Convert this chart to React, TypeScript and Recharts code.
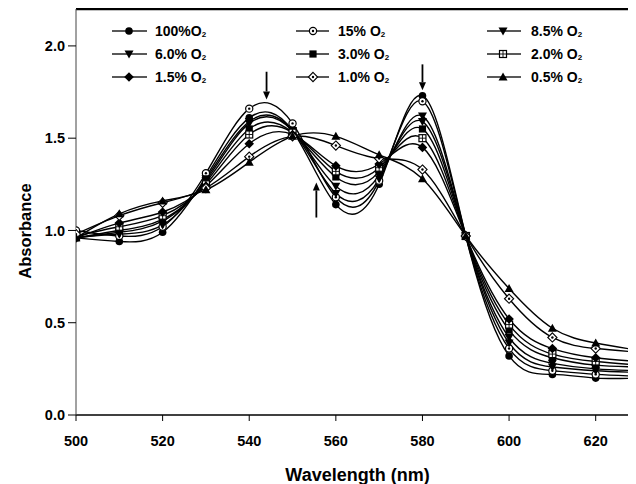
import React from "react";
import { LineChart, Line, XAxis, YAxis, ReferenceLine } from "recharts";

const WAVELENGTHS = [500, 510, 520, 530, 540, 550, 560, 570, 580, 590, 600, 610, 620, 630];

const O2_100 = [0.96, 0.94, 0.99, 1.29, 1.61, 1.54, 1.14, 1.25, 1.73, 0.97, 0.32, 0.22, 0.2, 0.2];
const O2_15 = [1.0, 0.97, 1.02, 1.31, 1.66, 1.58, 1.18, 1.27, 1.7, 0.97, 0.36, 0.24, 0.22, 0.21];
const O2_8_5 = [0.96, 0.98, 1.03, 1.28, 1.59, 1.54, 1.2, 1.28, 1.62, 0.97, 0.39, 0.26, 0.24, 0.23];
const O2_6_0 = [0.96, 0.99, 1.05, 1.27, 1.58, 1.54, 1.24, 1.3, 1.59, 0.97, 0.42, 0.28, 0.25, 0.24];
const O2_3_0 = [0.96, 1.0, 1.06, 1.26, 1.55, 1.53, 1.29, 1.32, 1.55, 0.97, 0.46, 0.31, 0.27, 0.26];
const O2_2_0 = [0.97, 1.02, 1.08, 1.25, 1.52, 1.53, 1.32, 1.34, 1.5, 0.97, 0.49, 0.33, 0.29, 0.27];
const O2_1_5 = [0.96, 1.04, 1.1, 1.24, 1.47, 1.52, 1.35, 1.36, 1.45, 0.97, 0.52, 0.36, 0.31, 0.29];
const O2_1_0 = [0.98, 1.08, 1.15, 1.23, 1.4, 1.51, 1.46, 1.39, 1.33, 0.97, 0.63, 0.42, 0.36, 0.34];
const O2_0_5 = [0.96, 1.09, 1.16, 1.22, 1.37, 1.51, 1.51, 1.41, 1.28, 0.97, 0.685, 0.47, 0.39, 0.35];

const X_TICKS = [500, 520, 540, 560, 580, 600, 620];
const Y_TICKS = [0, 0.5, 1.0, 1.5, 2.0];

const SERIES = [
  { key: "s100", label: "100%O", values: O2_100, marker: "circle" },
  { key: "s15", label: "15% O", values: O2_15, marker: "circleDot" },
  { key: "s85", label: "8.5% O", values: O2_8_5, marker: "triDown" },
  { key: "s60", label: "6.0% O", values: O2_6_0, marker: "triDown" },
  { key: "s30", label: "3.0% O", values: O2_3_0, marker: "square" },
  { key: "s20", label: "2.0% O", values: O2_2_0, marker: "squareCross" },
  { key: "s15b", label: "1.5% O", values: O2_1_5, marker: "diamond" },
  { key: "s10", label: "1.0% O", values: O2_1_0, marker: "diamondDot" },
  { key: "s05", label: "0.5% O", values: O2_0_5, marker: "triUp" },
];

const data = WAVELENGTHS.map((w, i) => {
  const row: Record<string, number> = { w };
  SERIES.forEach((s) => {
    row[s.key] = s.values[i];
  });
  return row;
});

const FONT = '"Liberation Sans", Arial, sans-serif';

function Marker({ type, cx, cy }: { type: string; cx: number; cy: number }) {
  if (cx == null || cy == null || isNaN(cx) || isNaN(cy)) return null;
  switch (type) {
    case "circle":
      return <circle cx={cx} cy={cy} r={3.8} fill="#000" />;
    case "circleDot":
      return (
        <g>
          <circle cx={cx} cy={cy} r={3.6} fill="#fff" stroke="#000" strokeWidth={1.2} />
          <circle cx={cx} cy={cy} r={1.2} fill="#000" />
        </g>
      );
    case "triDown":
      return <polygon points={`${cx - 4.5},${cy - 3.5} ${cx + 4.5},${cy - 3.5} ${cx},${cy + 4.5}`} fill="#000" />;
    case "triUp":
      return <polygon points={`${cx - 4.5},${cy + 3.5} ${cx + 4.5},${cy + 3.5} ${cx},${cy - 4.5}`} fill="#000" />;
    case "square":
      return <rect x={cx - 3.6} y={cy - 3.6} width={7.2} height={7.2} fill="#000" />;
    case "squareCross":
      return (
        <g>
          <rect x={cx - 3.5} y={cy - 3.5} width={7} height={7} fill="#fff" stroke="#000" strokeWidth={1.2} />
          <line x1={cx - 3.5} y1={cy} x2={cx + 3.5} y2={cy} stroke="#000" strokeWidth={0.9} />
          <line x1={cx} y1={cy - 3.5} x2={cx} y2={cy + 3.5} stroke="#000" strokeWidth={0.9} />
        </g>
      );
    case "diamond":
      return <polygon points={`${cx},${cy - 4.8} ${cx + 4.8},${cy} ${cx},${cy + 4.8} ${cx - 4.8},${cy}`} fill="#000" />;
    case "diamondDot":
      return (
        <g>
          <polygon
            points={`${cx},${cy - 4.6} ${cx + 4.6},${cy} ${cx},${cy + 4.6} ${cx - 4.6},${cy}`}
            fill="#fff"
            stroke="#000"
            strokeWidth={1.1}
          />
          <circle cx={cx} cy={cy} r={1.2} fill="#000" />
        </g>
      );
    default:
      return null;
  }
}

function ArrowShape(props: any) {
  const { x1, y1, x2, y2 } = props;
  const dir = y2 > y1 ? 1 : -1;
  const head = 8;
  return (
    <g>
      <line x1={x1} y1={y1} x2={x2} y2={y2 - dir * head} stroke="#000" strokeWidth={1.8} />
      <polygon
        points={`${x2 - 3.5},${y2 - dir * head} ${x2 + 3.5},${y2 - dir * head} ${x2},${y2}`}
        fill="#000"
      />
    </g>
  );
}

const LEGEND_COLS = [
  { x1: 104, x2: 139, mx: 121, tx: 147 },
  { x1: 288, x2: 321, mx: 305, tx: 330 },
  { x1: 479, x2: 513, mx: 495, tx: 523 },
];
const LEGEND_ROWS = [23, 46, 69];

function LegendOverlay() {
  return (
    <svg
      width={640}
      height={120}
      style={{ position: "absolute", left: 0, top: 0, pointerEvents: "none" }}
    >
      {SERIES.map((s, i) => {
        const col = LEGEND_COLS[i % 3];
        const y = LEGEND_ROWS[Math.floor(i / 3)];
        return (
          <g key={s.key}>
            <line x1={col.x1} y1={y} x2={col.x2} y2={y} stroke="#222" strokeWidth={1.3} />
            <Marker type={s.marker} cx={col.mx} cy={y} />
            <text
              x={col.tx}
              y={y + 5}
              fontFamily={FONT}
              fontWeight="bold"
              fontSize={14}
              fill="#000"
            >
              {s.label}
              <tspan fontSize={8} dy={1}>2</tspan>
            </text>
          </g>
        );
      })}
    </svg>
  );
}

export default function App() {
  return (
    <div style={{ position: "relative", width: 628, height: 476, overflow: "hidden" }}>
      <LineChart
        width={640}
        height={476}
        data={data}
        margin={{ top: 1, right: 9, bottom: 0, left: 0 }}
      >
        <XAxis
          dataKey="w"
          type="number"
          domain={[500, 630]}
          ticks={X_TICKS}
          allowDataOverflow
          height={69}
          tickSize={6}
          tickMargin={15}
          axisLine={{ stroke: "#000", strokeWidth: 1.5 }}
          tickLine={{ stroke: "#000" }}
          tick={{ fill: "#000", fontSize: 14.5, fontWeight: "bold", fontFamily: FONT }}
          label={{
            value: "Wavelength (nm)",
            position: "insideBottom",
            offset: 3,
            fill: "#000",
            fontSize: 18,
            fontWeight: "bold",
            fontFamily: FONT,
          }}
        />
        <YAxis
          type="number"
          domain={[0, 2.2]}
          ticks={Y_TICKS}
          allowDataOverflow
          width={68}
          tickSize={8}
          tickMargin={3}
          tickFormatter={(v: number) => v.toFixed(1)}
          axisLine={{ stroke: "#444", strokeWidth: 1 }}
          tickLine={{ stroke: "#000" }}
          tick={{ fill: "#000", fontSize: 14.5, fontWeight: "bold", fontFamily: FONT }}
          label={{
            content: (p: any) => {
              const vb = p.viewBox || { x: 0, y: 0 };
              const tx = vb.x + 23;
              const ty = vb.y + 222;
              return (
                <text
                  x={0}
                  y={0}
                  transform={`translate(${tx},${ty}) rotate(-90)`}
                  textAnchor="middle"
                  fontFamily={FONT}
                  fontWeight="bold"
                  fontSize={16.5}
                  fill="#000"
                >
                  Absorbance
                </text>
              );
            },
          }}
        />
        <ReferenceLine y={2.2} stroke="#000" strokeWidth={2.5} ifOverflow="visible" />
        {SERIES.map((s) => (
          <Line
            key={s.key}
            dataKey={s.key}
            type="natural"
            stroke="#000"
            strokeWidth={1.4}
            isAnimationActive={false}
            activeDot={false}
            dot={(p: any) => (
              <g key={`${s.key}-${p.index}`}>
                <Marker type={s.marker} cx={p.cx} cy={p.cy} />
              </g>
            )}
          />
        ))}
        <ReferenceLine
          segment={[
            { x: 544, y: 1.86 },
            { x: 544, y: 1.71 },
          ]}
          shape={ArrowShape}
          ifOverflow="visible"
        />
        <ReferenceLine
          segment={[
            { x: 580, y: 1.9 },
            { x: 580, y: 1.76 },
          ]}
          shape={ArrowShape}
          ifOverflow="visible"
        />
        <ReferenceLine
          segment={[
            { x: 555.5, y: 1.07 },
            { x: 555.5, y: 1.26 },
          ]}
          shape={ArrowShape}
          ifOverflow="visible"
        />
      </LineChart>
      <LegendOverlay />
    </div>
  );
}
